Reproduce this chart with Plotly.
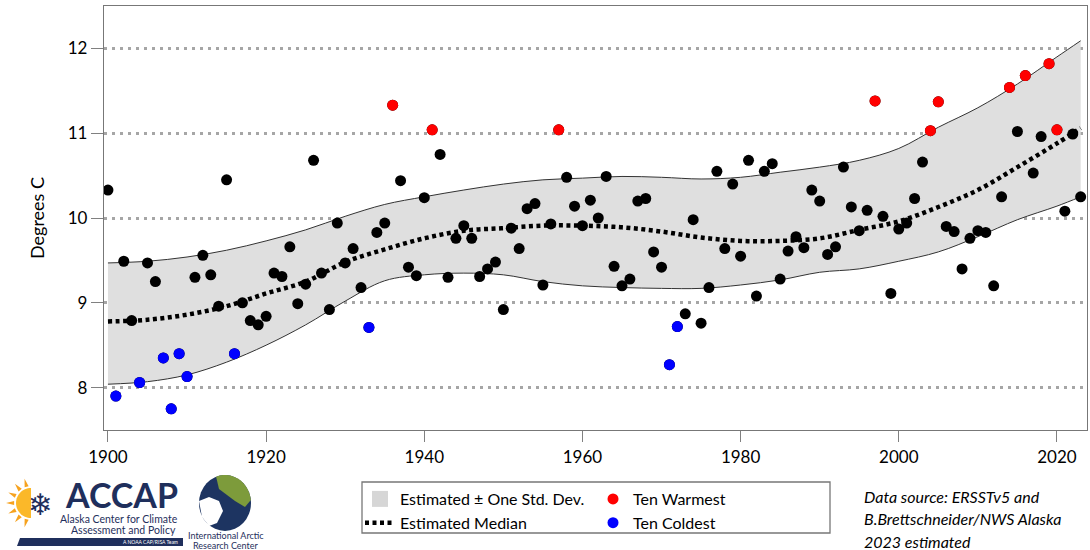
import math
import plotly.graph_objects as go

# ---------------- data ----------------
years = list(range(1900, 2024))
temps = [
    10.33, 7.90, 9.49, 8.79, 8.06, 9.47, 9.25, 8.35, 7.75, 8.40,   # 1900-1909
    8.13, 9.30, 9.56, 9.33, 8.96, 10.45, 8.40, 9.00, 8.79, 8.74,   # 1910-1919
    8.84, 9.35, 9.31, 9.66, 8.99, 9.22, 10.68, 9.35, 8.92, 9.94,   # 1920-1929
    9.47, 9.64, 9.18, 8.71, 9.83, 9.94, 11.33, 10.44, 9.42, 9.32,  # 1930-1939
    10.24, 11.04, 10.75, 9.30, 9.76, 9.91, 9.76, 9.31, 9.40, 9.48, # 1940-1949
    8.92, 9.88, 9.64, 10.11, 10.17, 9.21, 9.93, 11.04, 10.48, 10.14,  # 1950-1959
    9.91, 10.21, 10.00, 10.49, 9.43, 9.20, 9.28, 10.20, 10.23, 9.60,  # 1960-1969
    9.42, 8.27, 8.72, 8.87, 9.98, 8.76, 9.18, 10.55, 9.64, 10.40,  # 1970-1979
    9.55, 10.68, 9.08, 10.55, 10.64, 9.28, 9.61, 9.78, 9.65, 10.33,   # 1980-1989
    10.20, 9.57, 9.66, 10.60, 10.13, 9.85, 10.09, 11.38, 10.02, 9.11,  # 1990-1999
    9.87, 9.94, 10.23, 10.66, 11.03, 11.37, 9.90, 9.84, 9.40, 9.76,  # 2000-2009
    9.85, 9.83, 9.20, 10.25, 11.54, 11.02, 11.68, 10.53, 10.96, 11.82,  # 2010-2019
    11.04, 10.08, 10.99, 10.25,                                      # 2020-2023
]
warm_years = [1936, 1941, 1957, 1997, 2004, 2005, 2014, 2016, 2019, 2020]
cold_years = [1901, 1904, 1907, 1908, 1909, 1910, 1916, 1933, 1971, 1972]

curve_years = [1900, 1905, 1910, 1915, 1920, 1925, 1930, 1935, 1940, 1945,
               1950, 1955, 1960, 1965, 1970, 1975, 1980, 1985, 1990, 1995,
               2000, 2005, 2010, 2015, 2020, 2023]
median = [8.78, 8.80, 8.86, 8.96, 9.11, 9.25, 9.48, 9.63, 9.76, 9.85,
          9.88, 9.91, 9.91, 9.89, 9.84, 9.77, 9.73, 9.73, 9.76, 9.86,
          9.96, 10.13, 10.33, 10.60, 10.88, 11.06]
upper = [9.47, 9.49, 9.54, 9.62, 9.73, 9.86, 10.02, 10.16, 10.25, 10.33,
         10.40, 10.45, 10.47, 10.49, 10.48, 10.46, 10.48, 10.54, 10.60, 10.68,
         10.82, 11.07, 11.30, 11.58, 11.90, 12.09]
lower = [8.04, 8.07, 8.15, 8.30, 8.50, 8.74, 9.02, 9.26, 9.33, 9.35,
         9.33, 9.25, 9.20, 9.18, 9.17, 9.17, 9.21, 9.27, 9.36, 9.40,
         9.49, 9.60, 9.78, 9.98, 10.14, 10.25]

y_ticks = [8, 9, 10, 11, 12]
x_ticks = [1900, 1920, 1940, 1960, 1980, 2000, 2020]

legend_labels = ["Estimated \u00b1 One Std. Dev.", "Estimated Median", "Ten Warmest", "Ten Coldest"]
source_lines = ["Data source: ERSSTv5 and", "B.Brettschneider/NWS Alaska", "2023 estimated"]

# ---------------- figure ----------------
FONT = "Lato"
NAVY = "#1f2f5c"
W, H = 1090, 550
ML, MR, MT, MB = 104, 3, 6, 120
PW, PH = W - ML - MR, H - MT - MB


def px(x):
    return (x - ML) / PW


def py(y):
    return (H - MB - y) / PH


fig = go.Figure()

# band
fig.add_trace(go.Scatter(x=curve_years, y=lower, mode="lines", line=dict(color="#333333", width=1, shape="spline"),
                         showlegend=False, hoverinfo="skip"))
fig.add_trace(go.Scatter(x=curve_years, y=upper, mode="lines", line=dict(color="#333333", width=1, shape="spline"),
                         fill="tonexty", fillcolor="#dfdfdf", showlegend=False, hoverinfo="skip"))
# legend-only entry for band
fig.add_trace(go.Scatter(x=[None], y=[None], mode="markers", name=legend_labels[0],
                         marker=dict(symbol="square", size=16, color="#d6d6d6"), legend="legend", legendrank=1))
# median
fig.add_trace(go.Scatter(x=curve_years, y=median, mode="lines", name=legend_labels[1],
                         line=dict(color="black", width=4.5, dash="4px,3.5px", shape="spline"), legend="legend",
                         legendrank=2))
# all points
fig.add_trace(go.Scatter(x=years, y=temps, mode="markers", marker=dict(color="black", size=11),
                         showlegend=False))
warm_t = [temps[years.index(yv)] for yv in warm_years]
cold_t = [temps[years.index(yv)] for yv in cold_years]
fig.add_trace(go.Scatter(x=warm_years, y=warm_t, mode="markers", name=legend_labels[2],
                         marker=dict(color="#ff0000", size=11), legend="legend2", legendrank=1))
fig.add_trace(go.Scatter(x=cold_years, y=cold_t, mode="markers", name=legend_labels[3],
                         marker=dict(color="#0000ff", size=11), legend="legend2", legendrank=2))

shapes = []
annotations = []

# legend box
shapes.append(dict(type="rect", xref="paper", yref="paper", x0=px(362), x1=px(830), y0=py(533), y1=py(482),
                   line=dict(color="#777777", width=1.3), fillcolor="rgba(0,0,0,0)"))

# source text
for i, t in enumerate(source_lines):
    annotations.append(dict(text="<i>" + t + "</i>", xref="paper", yref="paper", x=px(862), y=py(496 + 22.5 * i),
                            xanchor="left", yanchor="middle", showarrow=False,
                            font=dict(family=FONT, size=16, color="black")))


# ---- logos (approximations) ----
def path_from(points):
    return "M " + " L ".join(f"{px(a)},{py(b)}" for a, b in points) + " Z"


# sun (left half disc) and rays
cx, cy, r = 31, 503, 15
half = [(cx + r * math.cos(math.radians(a)), cy - r * math.sin(math.radians(a))) for a in range(90, 271, 6)]
shapes.append(dict(type="path", xref="paper", yref="paper", path=path_from(half), fillcolor="#fbb829",
                   line=dict(width=0)))
for ang in [105, 130, 155, 180, 205, 230, 255]:
    a0, a1 = math.radians(ang - 7), math.radians(ang + 7)
    am = math.radians(ang)
    tri = [(cx + (r + 2) * math.cos(a0), cy - (r + 2) * math.sin(a0)),
           (cx + (r + 10) * math.cos(am), cy - (r + 10) * math.sin(am)),
           (cx + (r + 2) * math.cos(a1), cy - (r + 2) * math.sin(a1))]
    shapes.append(dict(type="path", xref="paper", yref="paper", path=path_from(tri), fillcolor="#f6a21e",
                       line=dict(width=0)))
annotations.append(dict(text="\u2744", xref="paper", yref="paper", x=px(40), y=py(504), showarrow=False,
                        xanchor="center", yanchor="middle",
                        font=dict(family="DejaVu Sans", size=30, color=NAVY)))
annotations.append(dict(text="<b>ACCAP</b>", xref="paper", yref="paper", x=px(121), y=py(495), showarrow=False,
                        xanchor="center", yanchor="middle", font=dict(family=FONT, size=34, color=NAVY)))
annotations.append(dict(text="Alaska Center for Climate", xref="paper", yref="paper", x=px(180), y=py(519),
                        showarrow=False, xanchor="right", yanchor="middle",
                        font=dict(family=FONT, size=10.5, color=NAVY)))
annotations.append(dict(text="Assessment and Policy", xref="paper", yref="paper", x=px(178), y=py(530),
                        showarrow=False, xanchor="right", yanchor="middle",
                        font=dict(family=FONT, size=10.5, color=NAVY)))
bar = [(20, 538), (183, 538), (183, 546), (17, 546)]
shapes.append(dict(type="path", xref="paper", yref="paper", path=path_from(bar), fillcolor=NAVY,
                   line=dict(width=0)))
annotations.append(dict(text="A NOAA CAP/RISA Team", xref="paper", yref="paper", x=px(150), y=py(542),
                        showarrow=False, xanchor="center", yanchor="middle",
                        font=dict(family=FONT, size=5, color="white")))

# globe
gx, gy, gr = 225, 503, 26
shapes.append(dict(type="circle", xref="paper", yref="paper", x0=px(gx - gr), x1=px(gx + gr),
                   y0=py(gy + gr + 2), y1=py(gy - gr - 2), fillcolor="#1d3461", line=dict(width=0)))
green = [(gx + gr * math.cos(math.radians(a)), gy - (gr + 2) * math.sin(math.radians(a))) for a in range(110, 0, -8)]
green += [(gx + 20, gy + 4), (gx + 10, gy - 2), (gx + 2, gy - 8), (gx - 6, gy - 14)]
shapes.append(dict(type="path", xref="paper", yref="paper", path=path_from(green), fillcolor="#7d9b3b",
                   line=dict(width=0)))
bear = [(gx - 26, gy - 2), (gx - 16, gy - 6), (gx - 6, gy - 2), (gx - 2, gy + 8), (gx - 8, gy + 20),
        (gx - 16, gy + 23), (gx - 23, gy + 14)]
shapes.append(dict(type="path", xref="paper", yref="paper", path=path_from(bear), fillcolor="white",
                   line=dict(width=0)))
annotations.append(dict(text="International Arctic", xref="paper", yref="paper", x=px(226), y=py(535),
                        showarrow=False, xanchor="center", yanchor="middle",
                        font=dict(family=FONT, size=9, color=NAVY)))
annotations.append(dict(text="Research Center", xref="paper", yref="paper", x=px(226), y=py(545),
                        showarrow=False, xanchor="center", yanchor="middle",
                        font=dict(family=FONT, size=9, color=NAVY)))

fig.update_layout(
    width=W, height=H,
    margin=dict(l=ML, r=MR, t=MT, b=MB),
    paper_bgcolor="white", plot_bgcolor="white",
    font=dict(family=FONT, size=17, color="black"),
    showlegend=True,
    legend=dict(x=px(360), y=py(482), xanchor="left", yanchor="top", orientation="v", traceorder="normal",
                font=dict(family=FONT, size=16, color="black"), bgcolor="rgba(0,0,0,0)", tracegroupgap=0),
    legend2=dict(x=px(593), y=py(482), xanchor="left", yanchor="top", orientation="v", traceorder="normal",
                 font=dict(family=FONT, size=16, color="black"), bgcolor="rgba(0,0,0,0)", tracegroupgap=0),
    xaxis=dict(range=[1899.5, 2023.8], tickvals=x_ticks, ticks="outside", ticklen=11, tickcolor="#808080",
               tickwidth=1.3, showgrid=False, zeroline=False, showline=True, mirror=True,
               linecolor="#777777", linewidth=1.3, tickfont=dict(family=FONT, size=17, color="black")),
    yaxis=dict(range=[7.5, 12.5], tickvals=y_ticks, ticks="outside", ticklen=12, tickcolor="#808080",
               tickwidth=1.3, showgrid=True, gridcolor="#a6a6a6", gridwidth=2.5, griddash="3px,5px",
               zeroline=False, showline=True, mirror=True, linecolor="#777777", linewidth=1.3,
               tickfont=dict(family=FONT, size=17, color="black"),
               title=dict(text="Degrees C", font=dict(family=FONT, size=18, color="black"), standoff=18)),
    shapes=shapes,
    annotations=annotations,
)

fig.write_html("out.html", config={"displayModeBar": False},
               post_script="document.documentElement.style.margin='0';document.body.style.margin='0';"
                           "document.body.style.overflow='hidden';")
